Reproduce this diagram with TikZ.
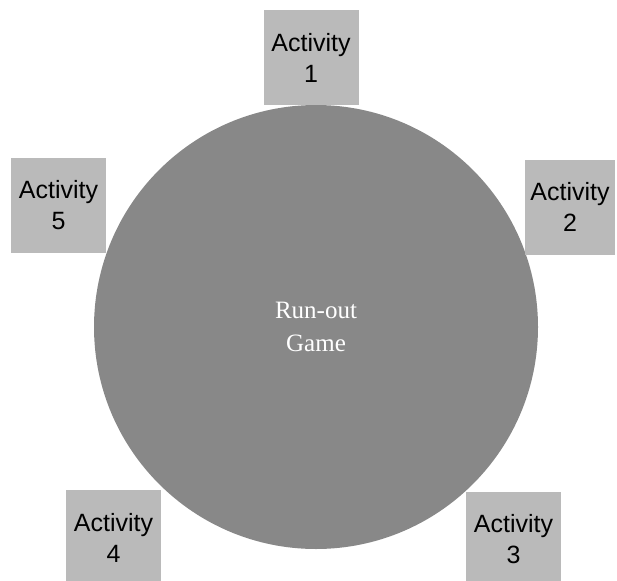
\documentclass[tikz,border=0pt]{standalone}
\usepackage{fontspec}
\setmainfont{Liberation Serif}
\setsansfont{Liberation Sans}
\definecolor{gamegray}{RGB}{136,136,136}
\definecolor{boxgray}{RGB}{186,186,186}
\tikzset{
  activity/.style={fill=boxgray,draw=none,minimum width=95pt,minimum height=95pt,
    inner sep=0pt,align=center,font=\sffamily\fontsize{25}{31}\selectfont},
  game/.style={circle,fill=gamegray,draw=none,minimum size=444pt,inner sep=0pt,
    align=center,text=white,font=\rmfamily\fontsize{25}{33}\selectfont}
}

\begin{document}
\begin{tikzpicture}[x=1pt,y=-1pt]
  \useasboundingbox (0,0) rectangle (617,580);

  % the game in the middle
  \node [game] (runout) at (316,327) {Run-out\\Game};

  % the activities round it
  \node [activity] (act1) at (311,57.5) {Activity\\1};
  \node [activity,minimum width=90pt] (act2) at (570,207) {Activity\\2};
  \node [activity] (act3) at (513.5,539.5) {Activity\\3};
  \node [activity] (act4) at (113.5,537.5) {Activity\\4};
  \node [activity] (act5) at (58.5,205) {Activity\\5};

\end{tikzpicture}
\end{document}
